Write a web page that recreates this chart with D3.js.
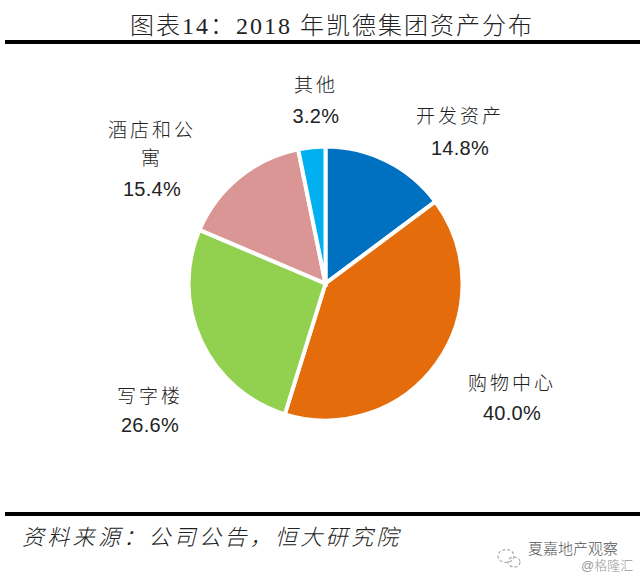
<!DOCTYPE html>
<html>
<head>
<meta charset="utf-8">
<script src="https://cdnjs.cloudflare.com/ajax/libs/d3/7.8.5/d3.min.js"></script>
<style>
  html, body { margin: 0; padding: 0; background: #fff; }
  text { font-family: "Liberation Sans", "Noto Sans CJK SC", sans-serif; font-weight: 300; }
</style>
</head>
<body>
<svg id="grafico" width="640" height="576"></svg>
<script>
const categorias = ["开发资产", "购物中心", "写字楼", "酒店和公寓", "其他"];
const valores = [14.8, 40.0, 26.6, 15.4, 3.2];
const colores = ["#0070c0", "#e46c0a", "#92d050", "#d99694", "#00b0f0"];

const svg = d3.select("#grafico");

svg.append("rect").attr("width", 640).attr("height", 576).attr("fill", "#fff");

// titulo
svg.append("text").attr("x", 130).attr("y", 34)
  .attr("font-size", 24).attr("letter-spacing", 2).attr("fill", "#222")
  .style("font-family", '"Liberation Serif", "Noto Sans CJK SC", serif')
  .text("图表14：2018 年凯德集团资产分布");

// lineas negras
svg.append("rect").attr("x", 5).attr("y", 40).attr("width", 635).attr("height", 4).attr("fill", "#000");
svg.append("rect").attr("x", 5).attr("y", 512).attr("width", 635).attr("height", 4).attr("fill", "#000");

// pie
const pie = d3.pie().sort(null)(valores);
const arco = d3.arc().innerRadius(0).outerRadius(137);
const g = svg.append("g").attr("transform", "translate(325.5,283.5)");
g.selectAll("path").data(pie).enter().append("path")
  .attr("d", arco)
  .attr("fill", (d, i) => colores[i])
  .attr("stroke", "#fff")
  .attr("stroke-width", 4);

// donde va cada etiqueta, en el mismo orden que categorias
// yNombre: linea base del nombre, yValor: linea base del porcentaje
const xEtiqueta = [460, 512, 150, 152, 316];
const yNombre = [123, 390, 403, 137, 92];
const yValor = [155, 420, 432, 196, 123];
const maxCaracteres = 4;  // el nombre salta de linea despues de 4 caracteres
const altoLinea = 28;

categorias.forEach((nombre, i) => {
  const lineas = [];
  for (let c = 0; c < nombre.length; c += maxCaracteres) {
    lineas.push(nombre.slice(c, c + maxCaracteres));
  }
  lineas.forEach((t, k) => {
    svg.append("text").attr("x", xEtiqueta[i]).attr("y", yNombre[i] + k * altoLinea)
      .attr("text-anchor", "middle")
      .attr("font-size", 19).attr("letter-spacing", 3).attr("fill", "#222").text(t);
  });
  svg.append("text").attr("x", xEtiqueta[i]).attr("y", yValor[i]).attr("text-anchor", "middle")
    .attr("font-size", 20).attr("letter-spacing", 0.3).attr("fill", "#222")
    .text(valores[i].toFixed(1) + "%");
});

// fuente
svg.append("text").attr("x", 22).attr("y", 545).attr("font-size", 22)
  .attr("letter-spacing", 3.3).attr("font-style", "italic").attr("fill", "#222")
  .text("资料来源：公司公告，恒大研究院");

// marca de agua: icono y textos
const icono = svg.append("g").attr("fill", "none").attr("stroke", "#aaa")
  .attr("stroke-width", 1.2).attr("stroke-dasharray", "3 2");
icono.append("ellipse").attr("cx", 506).attr("cy", 556).attr("rx", 8).attr("ry", 6.5);
icono.append("ellipse").attr("cx", 514).attr("cy", 562).attr("rx", 6).attr("ry", 5);

svg.append("text").attr("x", 528).attr("y", 554).attr("font-size", 15).attr("fill", "#555").text("夏嘉地产观察");
svg.append("text").attr("x", 581).attr("y", 570).attr("font-size", 13).attr("fill", "#999").text("@格隆汇");
</script>
</body>
</html>
